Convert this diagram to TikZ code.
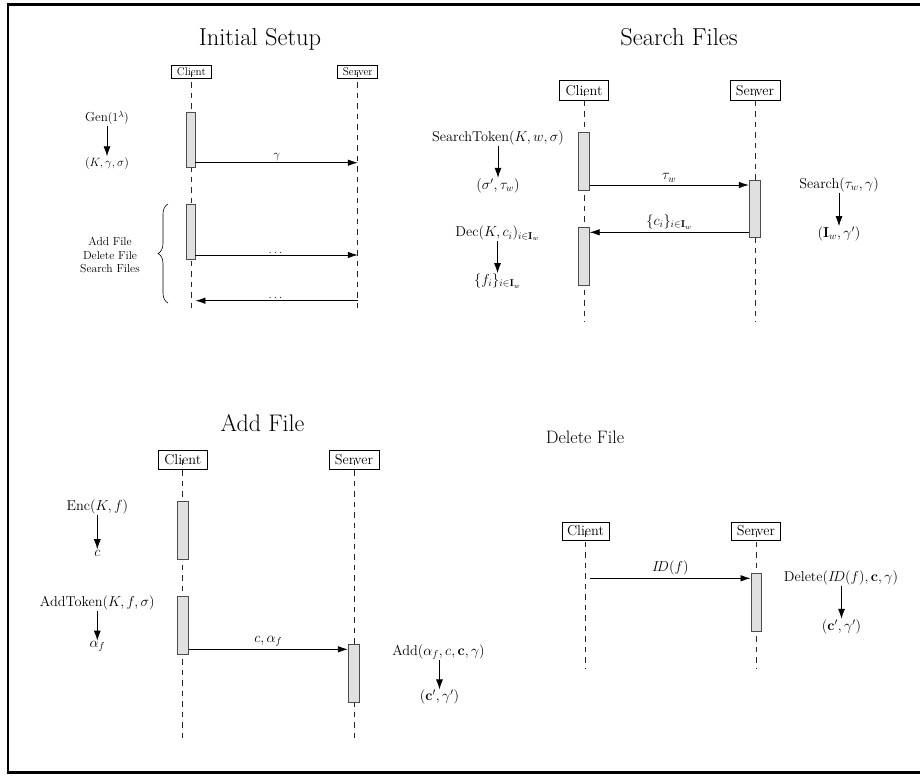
\documentclass[tikz,border=0pt]{standalone}
\usepackage{amsmath}
\usetikzlibrary{arrows.meta,decorations.pathreplacing}
\begin{document}
\begin{tikzpicture}[x=1pt,y=-1pt,
  ttl/.style={font=\fontsize{24}{28}\selectfont, inner sep=0pt},
  lbox/.style={draw, line width=0.7pt, inner sep=0pt, fill=white},
  life/.style={line width=0.8pt, black!85, dash pattern=on 5.5pt off 5pt},
  act/.style={draw=black!70, fill=black!12, line width=0.8pt, inner sep=0pt, minimum width=11pt},
  msg/.style={-{Latex[length=10pt,width=6.5pt]}, line width=0.8pt},
  op/.style={-{Latex[length=10pt,width=7pt]}, line width=0.8pt},
  lab/.style={inner sep=0.5pt},
  fa/.style={font=\fontsize{11.2}{13}\selectfont},
  fb/.style={font=\fontsize{13}{15}\selectfont},
  fc/.style={font=\fontsize{14.3}{17}\selectfont},
]
\useasboundingbox (0,0) rectangle (920,777);
% frame
\draw[line width=2.4pt] (940,4.3) -- (8,4.3) -- (8,772.5) -- (940,772.5);

% ================= Initial Setup =================
\node[ttl, font=\fontsize{24.5}{28}\selectfont, anchor=base] (t1) at (260,45) {Initial Setup};
\node[lbox, fa, minimum width=40.7pt, minimum height=13pt] (ic) at (191.3,71.5) {Client};
\node[lbox, fa, minimum width=40pt, minimum height=13pt] (is) at (357.8,71.5) {Server};
\draw[life] (ic.center) -- (ic.center |- 0,312);
\draw[life] (is.center) -- (is.center |- 0,312);
\node[act, minimum width=8.5pt, minimum height=55pt] (ia1) at (190.8,139.8) {};
\node[act, minimum width=8.5pt, minimum height=55pt] (ia2) at (190.8,231.8) {};
\coordinate (im1s) at (ia1.east |- 0,162.7);
\coordinate (im1e) at (is.center |- 0,162.7);
\draw[msg] (im1s) -- (im1e) node[midway, above=1pt, fb, lab] (lg) {$\gamma$};
\coordinate (im2s) at (ia2.east |- 0,255);
\coordinate (im2e) at (is.center |- 0,255);
\draw[msg] (im2s) -- (im2e) node[midway, above=1pt, fb, lab] (ld1) {$\dots$};
\coordinate (im3s) at (is.center |- 0,300.7);
\coordinate (im3e) at (ia2.east |- 0,300.7);
\draw[msg] (im3s) -- (im3e) node[midway, above=1pt, fb, lab] (ld2) {$\dots$};
\node[fb, lab] (gen) at (107,118) {Gen$(1^\lambda)$};
\node[fb, lab] (kgs) at (107,163) {$(K,\gamma,\sigma)$};
\draw[op] (gen.south) -- (kgs.north);
\draw[line width=0.6pt, decorate, decoration={brace, amplitude=10pt}] (168,303) -- (168,204);
\node[fa, lab, align=center, font=\fontsize{11.6}{13.5}\selectfont] (ops) at (110,255) {Add File\\Delete File\\Search Files};

% ================= Search Files =================
\node[ttl, font=\fontsize{24.5}{28}\selectfont, anchor=base] (t2) at (679,45) {Search Files};
\node[lbox, fc, minimum width=49pt, minimum height=19.3pt] (sc) at (584,90.3) {Client};
\node[lbox, fc, minimum width=50pt, minimum height=19.3pt] (ss) at (755,90.3) {Server};
\draw[life] (sc.center) -- (sc.center |- 0,322);
\draw[life] (ss.center) -- (ss.center |- 0,322);
\node[act, minimum height=57.7pt] (sa1) at (583.8,161.2) {};
\node[act, minimum height=57.7pt] (ss1) at (754.7,208.8) {};
\node[act, minimum height=57.3pt] (sa2) at (583.8,256.3) {};
\coordinate (sm1s) at (sa1.east |- 0,185);
\coordinate (sm1e) at (ss1.west |- 0,185);
\draw[msg] (sm1s) -- (sm1e) node[midway, above=2pt, fc, lab] (ltw) {$\tau_w$};
\coordinate (sm2s) at (ss1.west |- 0,232.3);
\coordinate (sm2e) at (sa2.east |- 0,232.3);
\draw[msg] (sm2s) -- (sm2e) node[midway, above=2pt, fc, lab] (lci) {$\{c_i\}_{i\in\mathbf{I}_w}$};
\node[fc, lab] (stok) at (498,137.7) {SearchToken$(K,w,\sigma)$};
\node[fc, lab] (stw) at (498,185.7) {$(\sigma',\tau_w)$};
\draw[op] (stok.south) -- (stw.north);
\node[fc, lab] (dec) at (497.5,233.3) {Dec$(K,c_i)_{i\in\mathbf{I}_w}$};
\node[fc, lab] (fi) at (497.5,281) {$\{f_i\}_{i\in\mathbf{I}_w}$};
\draw[op] (dec.south) -- (fi.north);
\node[fc, lab] (srch) at (839,185) {Search$(\tau_w,\gamma)$};
\node[fc, lab] (iw) at (839,234) {$(\mathbf{I}_w,\gamma')$};
\draw[op] (srch.south) -- (iw.north);

% ================= Add File =================
\node[ttl] (t3) at (262.5,422.7) {Add File};
\node[lbox, fc, minimum width=49pt, minimum height=19pt] (ac) at (182.8,459.5) {Client};
\node[lbox, fc, minimum width=50pt, minimum height=19pt] (as) at (354,459.5) {Server};
\draw[life] (ac.center) -- (ac.center |- 0,740);
\draw[life] (as.center) -- (as.center |- 0,740);
\node[act, minimum width=10.6pt, minimum height=58.3pt] (aa1) at (183,530.2) {};
\node[act, minimum width=10.6pt, minimum height=57.6pt] (aa2) at (183,625.5) {};
\node[act, minimum height=58pt] (as1) at (353.8,673.3) {};
\coordinate (am1s) at (aa2.east |- 0,649.3);
\coordinate (am1e) at (as1.west |- 0,649.3);
\draw[msg] (am1s) -- (am1e) node[midway, above=2pt, fc, lab] (lcaf) {$c,\alpha_f$};
\node[fc, lab] (enc) at (97.3,506.7) {Enc$(K,f)$};
\node[fc, lab] (cc) at (97.3,553) {$c$};
\draw[op] (enc.south) -- (cc.north);
\node[fc, lab] (atok) at (97.3,603.3) {AddToken$(K,f,\sigma)$};
\node[fc, lab] (af) at (97.3,646.5) {$\alpha_f$};
\draw[op] (atok.south) -- (af.north);
\node[fc, lab] (add) at (438.5,651.7) {Add$(\alpha_f,c,\mathbf{c},\gamma)$};
\node[fc, lab] (cg1) at (439.5,697.3) {$(\mathbf{c}',\gamma')$};
\draw[op] (add.south -| cg1.north) -- (cg1.north);

% ================= Delete File =================
\node[ttl, font=\fontsize{18}{22}\selectfont] (t4) at (585,437) {Delete File};
\node[lbox, fc, minimum width=47pt, minimum height=18pt] (dc) at (585.5,531) {Client};
\node[lbox, fc, minimum width=49pt, minimum height=18pt] (ds) at (756,531) {Server};
\draw[life] (dc.center) -- (dc.center |- 0,668);
\draw[life] (ds.center) -- (ds.center |- 0,668);
\node[act, minimum width=10.7pt, minimum height=57.7pt] (ds1) at (756.3,602.2) {};
\coordinate (dm1s) at (590,578.3);
\coordinate (dm1e) at (ds1.west |- 0,578.3);
\draw[msg] (dm1s) -- (dm1e) node[midway, above=2pt, fc, lab] (lid) {$I\!D(f)$};
\node[fc, lab] (del) at (841,578.3) {Delete$(I\!D(f),\mathbf{c},\gamma)$};
\node[fc, lab] (cg2) at (841.5,626.7) {$(\mathbf{c}',\gamma')$};
\draw[op] (del.south -| cg2.north) -- (cg2.north);
\end{tikzpicture}
\end{document}
